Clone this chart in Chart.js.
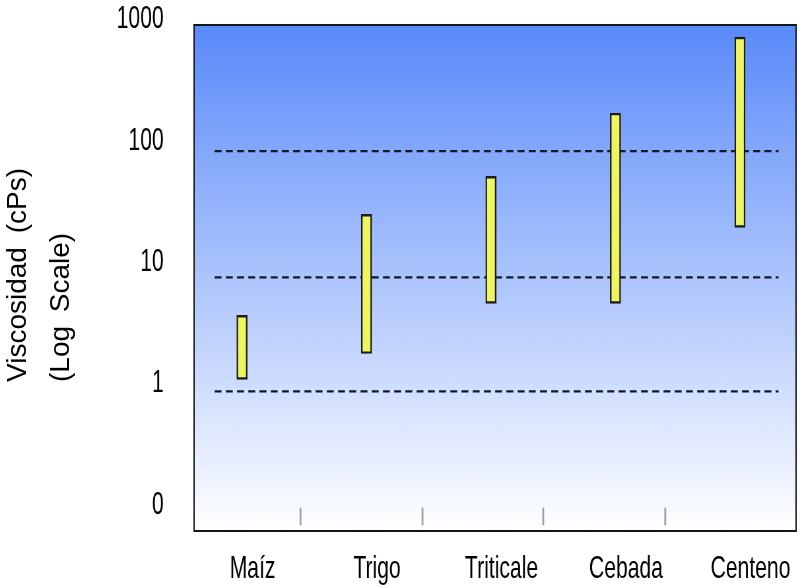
<!DOCTYPE html>
<html>
<head>
<meta charset="utf-8">
<script src="https://cdn.jsdelivr.net/npm/chart.js@4"></script>
<style>
  body { margin: 0; background: #fff; overflow: hidden; }
  #wrap { position: relative; width: 802px; height: 588px; }
  #chart { position: absolute; left: 0; top: 0; }
  #ytitle {
    position: absolute; left: -5px; top: 382px;
    transform-origin: 0 0; transform: rotate(-90deg);
    font: 28px 'Liberation Sans', Arial, sans-serif; line-height: 43px;
    word-spacing: 6px; white-space: nowrap; color: #000;
  }
</style>
</head>
<body>
<div id="wrap">
  <!-- canvas is drawn wider and squeezed back to 802px, like the narrow lettering of the original -->
  <canvas id="chart" width="1215" height="588" style="width:802px;height:588px"></canvas>
  <div id="ytitle">Viscosidad (cPs)<br>(Log Scale)</div>
</div>
<script>
// data
const categories = ['Maíz', 'Trigo', 'Triticale', 'Cebada', 'Centeno'];
const lowValues = [1.04, 1.7, 4.4, 4.4, 18.6];
const highValues = [3.5, 23.8, 49, 162, 687];
const guideValues = [0.83, 7.2, 79];          // dashed reference lines
const dividerPositions = [0.47, 1.45, 2.42, 3.4]; // small grey marks near the bottom
const yTickValues = [0.1, 1, 10, 100, 1000];
const yTickLabels = ['0', '1', '10', '100', '1000'];

const FONT = "'Liberation Sans', Arial, sans-serif";
const guideFrom = -0.22, guideTo = 4.31;
const dividerLow = 0.0658, dividerHigh = 0.0908;

// gradient background + black frame round the plot area
const plotFrame = {
  id: 'plotFrame',
  beforeDatasetsDraw(chart) {
    const { ctx, chartArea: a } = chart;
    const g = ctx.createLinearGradient(0, a.top, 0, a.bottom);
    g.addColorStop(0, '#5a8af9');
    g.addColorStop(1, '#ffffff');
    ctx.save();
    ctx.fillStyle = g;
    ctx.fillRect(a.left, a.top, a.width, a.height);
    ctx.restore();
  },
  afterDatasetsDraw(chart) {
    const { ctx, chartArea: a } = chart;
    ctx.save();
    ctx.strokeStyle = '#151515';
    ctx.lineWidth = 2;
    ctx.strokeRect(a.left, a.top, a.width, a.height);
    ctx.restore();
  }
};

const rangeBars = {
  type: 'bar',
  data: categories.map((c, i) => ({ x: i, y: [lowValues[i], highValues[i]] })),
  backgroundColor: '#eef55f',
  borderColor: '#1c1c1c',
  borderWidth: 2.4,
  borderSkipped: false,
  barThickness: 16,
  grouped: false,
  order: 0
};

const dividers = {
  type: 'bar',
  data: dividerPositions.map(x => ({ x: x, y: [dividerLow, dividerHigh] })),
  backgroundColor: '#a2a2a2',
  borderWidth: 0,
  barThickness: 2.2,
  grouped: false,
  order: 1
};

const guides = guideValues.map(v => ({
  type: 'line',
  data: [{ x: guideFrom, y: v }, { x: guideTo, y: v }],
  borderColor: '#111827',
  borderWidth: 2.2,
  borderDash: [10.5, 6.5],
  pointRadius: 0,
  fill: false,
  order: 2
}));

function noEdgePadding(s) {
  s.paddingTop = 0; s.paddingBottom = 0; s.paddingLeft = 0; s.paddingRight = 0;
}

new Chart(document.getElementById('chart'), {
  type: 'bar',
  data: { datasets: [rangeBars, dividers, ...guides] },
  options: {
    responsive: false,
    animation: false,
    devicePixelRatio: 1,
    layout: { padding: { left: 164, top: 25, right: 9, bottom: 0 } },
    plugins: { legend: { display: false }, tooltip: { enabled: false } },
    scales: {
      x: {
        type: 'linear',
        offset: false,
        min: -0.385,
        max: 4.451,
        afterBuildTicks: s => { s.ticks = categories.map((c, i) => ({ value: i })); },
        afterFit: s => { s.height = 57; noEdgePadding(s); },
        grid: { display: false },
        border: { display: false },
        ticks: {
          autoSkip: false,
          maxRotation: 0,
          padding: 11,
          labelOffset: 16,
          color: '#000',
          font: { family: FONT, size: 32 },
          callback: (v, i) => categories[i]
        }
      },
      y: {
        type: 'logarithmic',
        min: 0.0587,
        max: 864,
        afterBuildTicks: s => { s.ticks = yTickValues.map(v => ({ value: v })); },
        afterFit: s => { s.width = 130; noEdgePadding(s); },
        grid: { display: false },
        border: { display: false },
        ticks: {
          autoSkip: false,
          padding: 38,
          labelOffset: 2,
          color: '#000',
          font: { family: FONT, size: 32 },
          callback: (v, i) => yTickLabels[i]
        }
      }
    }
  },
  plugins: [plotFrame]
});
</script>
</body>
</html>
